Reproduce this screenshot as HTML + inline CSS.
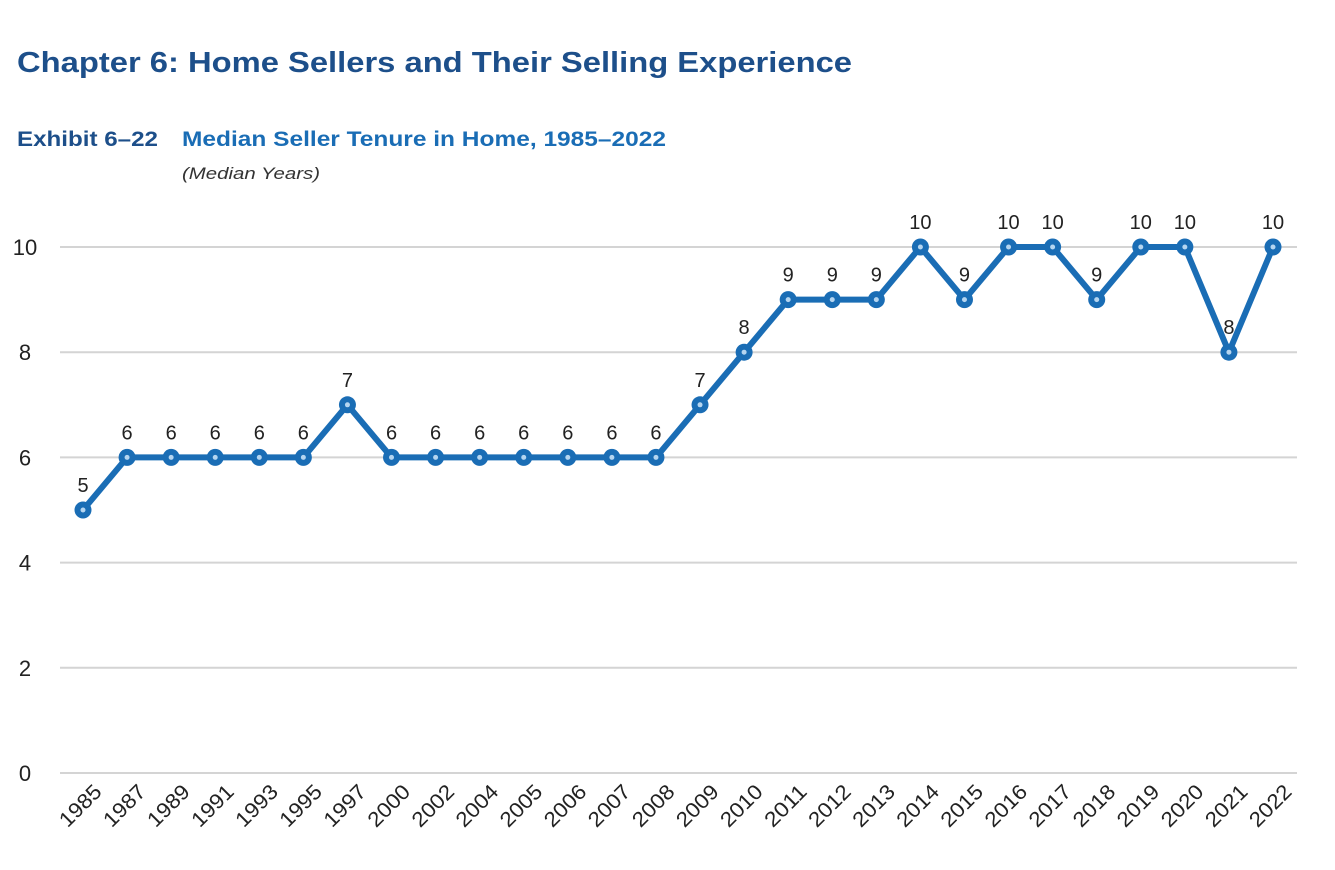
<!DOCTYPE html>
<html><head><meta charset="utf-8"><style>
body{margin:0;background:#fff;width:1335px;height:870px;overflow:hidden;font-family:"Liberation Sans",sans-serif}
</style></head><body>
<svg width="1335" height="870" style="position:absolute;left:0;top:0">
<text x="17" y="72" font-size="29" font-weight="bold" fill="#1d4f8a" textLength="835" lengthAdjust="spacingAndGlyphs">Chapter 6:  Home Sellers and Their Selling Experience</text>
<text x="17" y="146" font-size="21" font-weight="bold" fill="#1d4f8a" textLength="141" lengthAdjust="spacingAndGlyphs">Exhibit 6–22</text>
<text x="182" y="146" font-size="21" font-weight="bold" fill="#1a6db5" textLength="484" lengthAdjust="spacingAndGlyphs">Median Seller Tenure in Home, 1985–2022</text>
<text x="182" y="179" font-size="17" font-style="italic" fill="#333" textLength="138" lengthAdjust="spacingAndGlyphs">(Median Years)</text>
<g id="grid"></g><g id="yl"></g><g id="xl"></g><g id="series"></g>
</svg>
<script>
const years=["1985","1987","1989","1991","1993","1995","1997","2000","2002","2004","2005","2006","2007","2008","2009","2010","2011","2012","2013","2014","2015","2016","2017","2018","2019","2020","2021","2022"];
const values=[5,6,6,6,6,6,7,6,6,6,6,6,6,6,7,8,9,9,9,10,9,10,10,9,10,10,8,10];
const yTicks=[0,2,4,6,8,10];
const NS="http://www.w3.org/2000/svg";
const x=i=>83+i*(1273-83)/(years.length-1);
const y=v=>773-v*52.6;
function mk(t,a,p){const e=document.createElementNS(NS,t);for(const k in a)e.setAttribute(k,a[k]);p.appendChild(e);return e;}
const g=document.getElementById('grid'),yl=document.getElementById('yl'),xl=document.getElementById('xl'),s=document.getElementById('series');
yTicks.forEach(t=>{
 const l=mk('line',{x1:60,x2:1297,y1:y(t),y2:y(t),stroke:'#d4d4d4','stroke-width':2},g);
 
 
 const tx=mk('text',{x:25,y:y(t)+8,'font-size':22,'text-anchor':'middle',fill:'#222'},yl);
 tx.textContent=t;
 
 
});
years.forEach((yr,i)=>{
 const tx=mk('text',{x:x(i)+20,y:793,'font-size':21,'text-anchor':'end',fill:'#222',textLength:50,lengthAdjust:'spacingAndGlyphs',transform:`rotate(-45 ${x(i)+20} 793)`},xl);
 tx.textContent=yr;
 
 
});
const pl=mk('polyline',{points:values.map((v,i)=>x(i)+','+y(v)).join(' '),fill:'none',stroke:'#1a6db5','stroke-width':6,'stroke-linejoin':'round'},s);


values.forEach((v,i)=>{
 const c=mk('circle',{cx:x(i),cy:y(v),r:8.5,fill:'#1a6db5'},s);
 
 
 const d=mk('circle',{cx:x(i),cy:y(v),r:2.5,fill:'#b5d5f0'},s);
 
 
 const t=mk('text',{x:x(i),y:y(v)-18,'font-size':20,'text-anchor':'middle',fill:'#222'},s);
 t.textContent=v;
 
 
});
</script>
</body></html>
